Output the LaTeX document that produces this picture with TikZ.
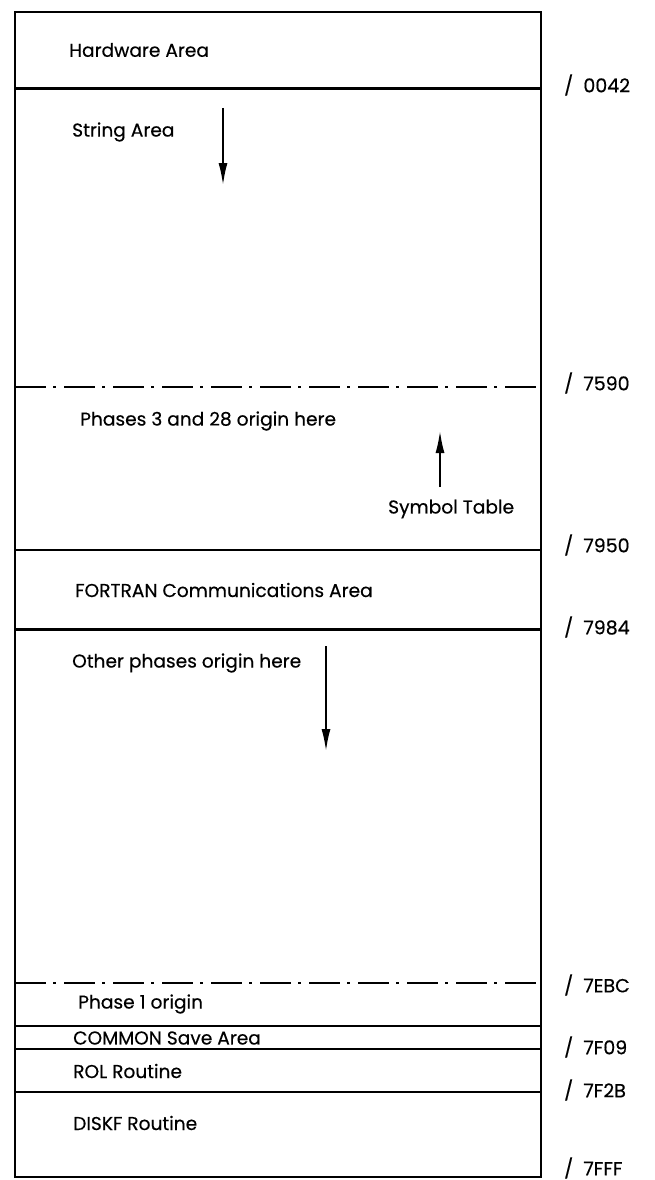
\documentclass[tikz,border=0pt]{standalone}
\usepackage{fontspec}
\setmainfont{Poppins}[FakeBold=0.4]
\usetikzlibrary{arrows.meta}
\tikzset{
  lbl/.style={anchor=west, inner sep=0pt, font=\fontsize{18.6}{21}\selectfont},
  addr/.style={anchor=west, inner sep=0pt, font=\fontsize{19}{22}\selectfont},
  border/.style={line width=2.6pt},
  divider/.style={line width=2.2pt},
  dashdot/.style={line width=2.4pt, dash pattern=on 31pt off 7pt on 3pt off 8pt},
  flow/.style={line width=1.8pt, -{Latex[length=22pt,width=9pt]}}
}
\begin{document}
\begin{tikzpicture}[x=1pt,y=-1pt]
\useasboundingbox (0,0) rectangle (654,1180);
% outer box
\draw[border] (15,12) rectangle (541,1177);
% dividers
\draw[divider] (15,88.5) -- (541,88.5);
\draw[dashdot] (15,387) -- (541,387);
\draw[divider] (15,550) -- (541,550);
\draw[divider] (15,629.5) -- (541,629.5);
\draw[dashdot] (15,983) -- (541,983);
\draw[divider] (15,1026) -- (541,1026);
\draw[divider] (15,1049) -- (541,1049);
\draw[divider] (15,1092) -- (541,1092);
% texts
\node[lbl] (hw) at (69,50) {Hardware\ Area};
\node[lbl] (str) at (72,132) {String Area};
\node[lbl] (ph3) at (80,421) {Phases 3 and 28 origin here};
\node[lbl] (sym) at (388,509) {Symbol Table};
\node[lbl] (fca) at (75,590) {FORTRAN Communications Area};
\node[lbl] (oth) at (72,663) {Other phases origin here};
\node[lbl] (ph1) at (78,1004) {Phase 1 origin};
\node[lbl] (com) at (73,1038) {COMMON\ Save\ Area};
\node[lbl] (rol) at (73,1071) {ROL Routine};
\node[lbl] (dsk) at (73,1123) {DISKF Routine};
% addresses
\node[addr] (a1) at (564,85) {/\ \ 0042};
\node[addr] (a2) at (564,383) {/\ \ 7590};
\node[addr] (a3) at (564,545) {/\ \ 7950};
\node[addr] (a4) at (564,627) {/\ \ 7984};
\node[addr] (a5) at (564,985) {/\ \ 7EBC};
\node[addr] (a6) at (564,1047) {/\ \ 7F09};
\node[addr] (a7) at (564,1090) {/\ \ 7F2B};
\node[addr] (a8) at (564,1168) {/\ \ 7FFF};
% arrows
\coordinate (s1) at (223,108);
\coordinate (s2) at (223,185);
\coordinate (t1) at (440,487);
\coordinate (t2) at (440,431);
\coordinate (o1) at (326,646);
\coordinate (o2) at (326,751);
\draw[flow] (s1) -- (s2);
\draw[flow] (t1) -- (t2);
\draw[flow] (o1) -- (o2);
\end{tikzpicture}
\end{document}
